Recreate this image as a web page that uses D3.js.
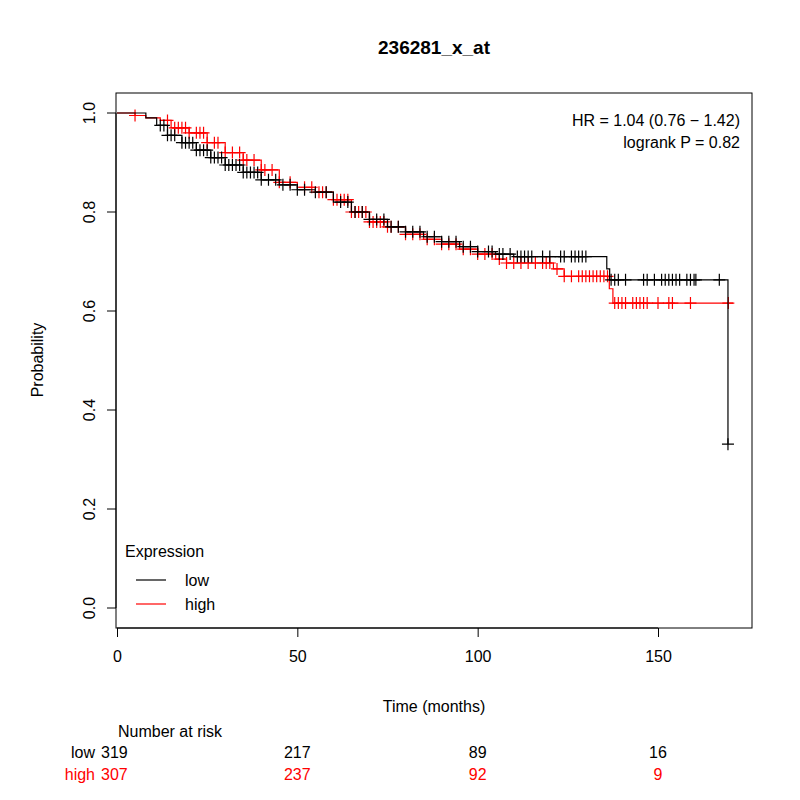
<!DOCTYPE html>
<html><head><meta charset="utf-8">
<script src="https://cdn.jsdelivr.net/npm/d3@7"></script>
<style>body{margin:0;background:#fff}text{font-family:"Liberation Sans",Arial,sans-serif}</style>
</head><body><svg id="c" width="800" height="800"></svg>
<script>
// step curves: [time, survival]
const lowSteps = [[0,1],[8,0.99],[11,0.975],[14,0.955],[18,0.94],[22,0.925],[26,0.91],[30,0.895],[35,0.88],[40,0.865],[45,0.855],[50,0.845],[55,0.84],[60,0.82],[65,0.8],[70,0.785],[75,0.77],[80,0.76],[85,0.75],[90,0.74],[95,0.73],[100,0.72],[105,0.715],[110,0.71],[135.8,0.685],[136.6,0.663],[169.4,0.331]];
const highSteps = [[0,1],[5,0.995],[8,0.99],[12,0.985],[15,0.97],[20,0.96],[25,0.94],[30,0.92],[35,0.905],[40,0.885],[45,0.86],[50,0.85],[55,0.84],[60,0.825],[65,0.8],[70,0.78],[75,0.77],[80,0.755],[85,0.745],[90,0.735],[95,0.725],[100,0.715],[105,0.705],[108,0.697],[121,0.685],[124,0.67],[136.5,0.645],[137.5,0.616]];
const lowEnd = 169.4, highEnd = 170.8;
const lowCens = [12,13,14,15,16,18,19,20,21,22,23,24,25,26,27,28,29,30,31,32,33,34,35,36,37,38,39,40,42,44,46,48,50,52,55,58,62,64,66,68,70,72,74,76,78,80,82,84,86,88,90,92,94,96,98,100,103,104,106,107,109,111,112,113,114,115,118,120,123,124,126,127,128,129,130,137,138,139,141,146,147,149,151,152,153,154,155,156,158,159,160,160.5,167,169.4];
const highCens = [5,14,16,17,18,19,20,22,23,24,25,27,28,30,32,34,35,36,38,40,41,43,45,48,52,54,56,57,58,60,61,62,63,64,65,66,67,68,69,70,71,72,73,74,75,76,78,80,82,84,86,88,90,92,94,96,98,100,102,104,106,108,110,112,114,116,118,119,120,122,124,126,128,129,130,131,132,133,134,135,136,138,139,140,141,143,144,145,146,147,150,153,154,159,169.5];
const xTicks = [0,50,100,150];
const yTicks = [0,0.2,0.4,0.6,0.8,1.0];
const riskTimes = [0,50,100,150];
const riskLow = [319,217,89,16];
const riskHigh = [307,237,92,9];

const svg = d3.select("#c");
const x = d3.scaleLinear().domain([0,150]).range([117,658]);
const y = d3.scaleLinear().domain([0,1]).range([608,113]);
const L = 116, R = 752, T = 93, B = 628;

svg.append("rect").attr("x",L).attr("y",T).attr("width",R-L).attr("height",B-T)
  .attr("fill","none").attr("stroke","#000");

svg.append("text").attr("x",434).attr("y",54).attr("text-anchor","middle")
  .style("font-size","19px").style("font-weight","bold").text("236281_x_at");

// axes
svg.append("g").attr("transform",`translate(0,${B})`)
  .call(d3.axisBottom(x).tickValues(xTicks).tickSize(9).tickPadding(14).tickFormat(d3.format("d")))
  .call(g=>{g.select(".domain").attr("d",`M${x(0)},0H${x(150)}`);g.selectAll("text").style("font-size","16px");});
const ya = svg.append("g").attr("transform",`translate(${L},0)`)
  .call(d3.axisLeft(y).tickValues(yTicks).tickSize(9).tickFormat(d3.format(".1f")));
ya.select(".domain").attr("d",`M0,${y(0)}V${y(1)}`);
ya.selectAll(".tick").attr("transform",null);
ya.selectAll(".tick line").attr("transform",d=>`translate(0,${y(d)})`);
ya.selectAll("text").style("font-size","16px").attr("text-anchor","middle").attr("x",0).attr("y",0)
  .attr("dy","0.35em").attr("transform",d=>`translate(-27,${y(d)}) rotate(-90)`);

svg.append("text").attr("x",434).attr("y",712).attr("text-anchor","middle").style("font-size","16px").text("Time (months)");
svg.append("text").attr("transform","translate(43,360) rotate(-90)").attr("text-anchor","middle").style("font-size","16px").text("Probability");

function surv(steps,t){let s=1;for(const [tt,v] of steps){if(tt<=t)s=v;}return s;}
function path(steps,end){
  let d=`M${x(steps[0][0])},${y(steps[0][1])}`;
  for(let i=1;i<steps.length;i++){d+=`H${x(steps[i][0])}V${y(steps[i][1])}`;}
  d+=`H${x(end)}`;return d;
}
function curve(steps,end,cens,col){
  svg.append("path").attr("d",path(steps,end)).attr("fill","none").attr("stroke",col).attr("stroke-width",1.2);
  svg.append("g").selectAll("path").data(cens).join("path")
    .attr("d",t=>{const cx=x(t),cy=y(surv(steps,t));return `M${cx-6},${cy}H${cx+6}M${cx},${cy-6}V${cy+6}`;})
    .attr("stroke",col).attr("stroke-width",1.2);
}
curve(highSteps,highEnd,highCens,"#ff0000");
curve(lowSteps,lowEnd,lowCens,"#000");

// HR text
svg.append("text").attr("x",740).attr("y",126).attr("text-anchor","end").style("font-size","16px").text("HR = 1.04 (0.76 \u2212 1.42)");
svg.append("text").attr("x",740).attr("y",148).attr("text-anchor","end").style("font-size","16px").text("logrank P = 0.82");

// legend
svg.append("text").attr("x",125).attr("y",557).style("font-size","16px").text("Expression");
[["low","#000"],["high","#ff0000"]].forEach((l,i)=>{
  const yy=580+i*24;
  svg.append("line").attr("x1",136).attr("x2",166).attr("y1",yy).attr("y2",yy).attr("stroke",l[1]).attr("stroke-width",1.2);
  svg.append("text").attr("x",185).attr("y",yy+6).style("font-size","16px").text(l[0]);
});

// number at risk
svg.append("text").attr("x",118).attr("y",737).style("font-size","16px").text("Number at risk");
[["low",riskLow,"#000",758],["high",riskHigh,"#ff0000",780]].forEach(r=>{
  svg.append("text").attr("x",95).attr("y",r[3]).attr("text-anchor","end").attr("fill",r[2]).style("font-size","16px").text(r[0]);
  riskTimes.forEach((t,i)=>{
    svg.append("text").attr("x",i===0?101:x(t)).attr("y",r[3]).attr("text-anchor",i===0?"start":"middle")
      .attr("fill",r[2]).style("font-size","16px").text(r[1][i]);
  });
});
</script></body></html>
